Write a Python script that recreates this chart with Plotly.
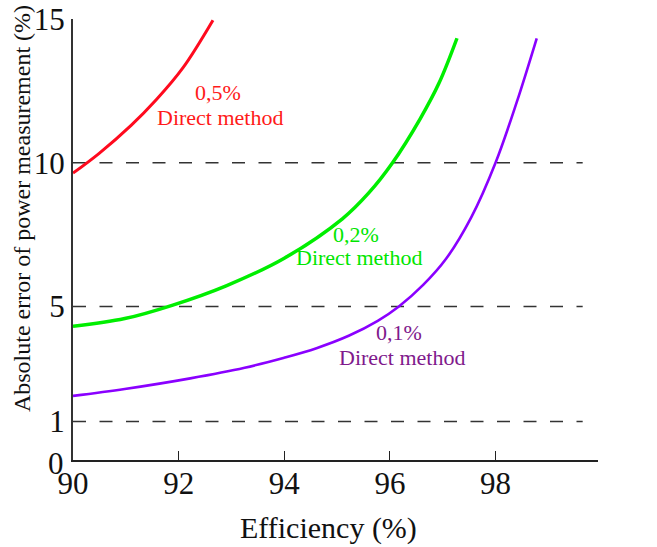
import plotly.graph_objects as go

# ---- data ----
eff_05 = [90.0, 90.49, 91.10, 91.58, 92.08, 92.65]
err_05 = [9.64, 10.32, 11.30, 12.20, 13.30, 14.96]

eff_02 = [90.0, 90.98, 91.89, 92.90, 94.0, 95.10, 95.60, 96.05, 96.57, 96.93, 97.27]
err_02 = [4.31, 4.58, 5.05, 5.72, 6.68, 8.05, 8.95, 10.0, 11.52, 12.77, 14.33]

eff_01 = [90.0, 90.98, 92.22, 93.25, 94.0, 94.61, 95.22, 95.77, 96.17, 96.63,
          97.06, 97.54, 98.0, 98.40, 98.78]
err_01 = [1.89, 2.13, 2.50, 2.87, 3.22, 3.55, 3.98, 4.50, 5.0, 5.75,
          6.65, 8.10, 10.0, 12.10, 14.33]

indirect_levels = [1, 5, 10]
indirect_labels = ["1% Indirect", "5% Indirect", "10% Indirect"]
indirect_x_extent = [90, 99.65]

x_ticks = [90, 92, 94, 96, 98]
y_ticks = [1, 5, 10, 15]
y_origin_label = "0"   # drawn at the corner, just below the axis as in the reference

x_title = "Efficiency (%)"
y_title = "Absolute error of power measurement (%)"

FONT = "Liberation Serif"

fig = go.Figure()

for lvl in indirect_levels:
    fig.add_trace(go.Scatter(
        x=indirect_x_extent, y=[lvl, lvl], mode="lines",
        line=dict(color="#333333", width=1.3, dash="13px,13.5px"),
        showlegend=False, hoverinfo="skip"))

fig.add_trace(go.Scatter(x=eff_05, y=err_05, mode="lines",
                         line=dict(color="#ff0a1e", width=3, shape="spline", smoothing=1),
                         showlegend=False))
fig.add_trace(go.Scatter(x=eff_02, y=err_02, mode="lines",
                         line=dict(color="#00ee00", width=3.5, shape="spline", smoothing=1),
                         showlegend=False))
fig.add_trace(go.Scatter(x=eff_01, y=err_01, mode="lines",
                         line=dict(color="#8a00ff", width=2.6, shape="spline", smoothing=1),
                         showlegend=False))

annotations = []
for lvl, lab in zip(indirect_levels, indirect_labels):
    annotations.append(dict(x=101.0, y=lvl, xref="x", yref="y", text=lab,
                            showarrow=False, xanchor="right", yanchor="middle",
                            yshift=20, font=dict(family=FONT, size=25, color="#111111")))

curve_labels = [
    ("0,5%", 92.74, 12.46, "#ff1a1a"),
    ("Direct method", 92.79, 11.59, "#ff1a1a"),
    ("0,2%", 95.35, 7.52, "#00e600"),
    ("Direct method", 95.41, 6.69, "#00e600"),
    ("0,1%", 96.18, 4.08, "#80198c"),
    ("Direct method", 96.22, 3.24, "#80198c"),
]
for txt, x, y, col in curve_labels:
    annotations.append(dict(x=x, y=y, xref="x", yref="y", text=txt, showarrow=False,
                            xanchor="center", yanchor="middle",
                            font=dict(family=FONT, size=22, color=col)))

# origin "0" label
annotations.append(dict(x=90, y=0, xref="x", yref="y", text=y_origin_label,
                        showarrow=False, xanchor="right", yanchor="middle",
                        xshift=-7, yshift=-13,
                        font=dict(family=FONT, size=31, color="#111111")))

annotations.append(dict(x=-0.0971, y=0.569, xref="paper", yref="paper", text=y_title,
                        textangle=-90, showarrow=False, xanchor="center", yanchor="middle",
                        font=dict(family=FONT, size=24, color="#111111")))
annotations.append(dict(x=0.4876, y=-0.154, xref="paper", yref="paper", text=x_title,
                        showarrow=False, xanchor="center", yanchor="middle",
                        font=dict(family=FONT, size=30, color="#111111")))

fig.update_layout(
    width=657, height=547,
    margin=dict(l=73, r=59, t=19, b=87),
    paper_bgcolor="white", plot_bgcolor="white",
    annotations=annotations,
    xaxis=dict(range=[90, 99.94], tickvals=x_ticks, ticks="inside", ticklen=9,
               tickwidth=1.2, tickcolor="#222222", showline=True, linewidth=2,
               linecolor="#222222", showgrid=False, zeroline=False, automargin=False,
               ticklabeloverflow="allow", ticklabelstandoff=-5,
               tickfont=dict(family=FONT, size=31, color="#111111")),
    yaxis=dict(range=[-0.34, 15], tickvals=y_ticks, ticks="", showline=True,
               linewidth=2, linecolor="#333333", showgrid=False, zeroline=False,
               automargin=False, ticklabeloverflow="allow",
               tickfont=dict(family=FONT, size=31, color="#111111")),
)

# remove the browser's default 8px body margin so the figure sits at the page corner
fig.write_html("out.html",
               config={"displayModeBar": False},
               post_script="document.body.style.margin='0';document.body.style.overflow='hidden';")
